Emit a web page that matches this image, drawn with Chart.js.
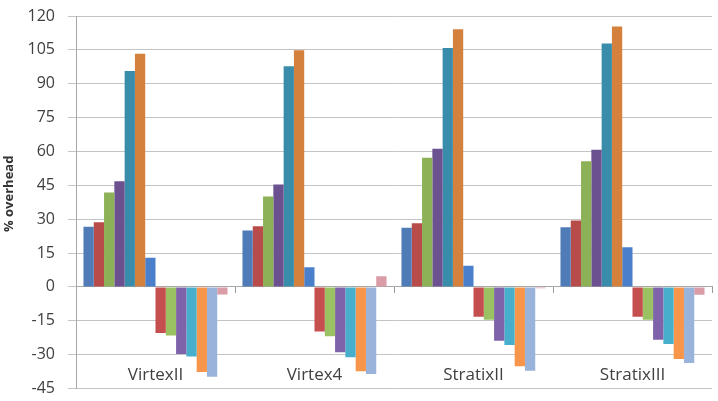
<!DOCTYPE html>
<html><head><meta charset="utf-8">
<script src="https://cdn.jsdelivr.net/npm/chart.js@4"></script>
<style>html,body{margin:0;padding:0;background:#fff}canvas{display:block}</style>
</head><body>
<canvas id="c" width="718" height="401"></canvas>
<script>
const categories = ['VirtexII', 'Virtex4', 'StratixII', 'StratixIII'];
const seriesNames = ['Series 1','Series 2','Series 3','Series 4','Series 5','Series 6','Series 7',
                     'Series 8','Series 9','Series 10','Series 11','Series 12','Series 13','Series 14'];
const s1  = [26.7, 25.0, 26.2, 26.4];
const s2  = [28.6, 26.9, 28.2, 29.4];
const s3  = [41.8, 40.0, 57.2, 55.7];
const s4  = [46.8, 45.4, 61.2, 60.7];
const s5  = [95.6, 97.7, 105.8, 107.8];
const s6  = [103.3, 104.8, 114.1, 115.4];
const s7  = [12.9, 8.7, 9.4, 17.6];
const s8  = [-20.4, -19.8, -13.2, -13.2];
const s9  = [-21.5, -21.9, -14.6, -14.6];
const s10 = [-29.7, -29.0, -23.8, -23.4];
const s11 = [-30.8, -31.2, -25.7, -25.3];
const s12 = [-37.7, -37.4, -35.2, -31.9];
const s13 = [-39.8, -38.6, -37.1, -33.7];
const s14 = [-3.4, 4.7, -0.6, -3.5];
const yMin = -45, yMax = 120, yStep = 15;
const yTitle = '% overhead';

const seriesValues = [s1,s2,s3,s4,s5,s6,s7,s8,s9,s10,s11,s12,s13,s14];
const colors = ['#4F7BB6','#B84C4A','#8CB157','#6B518F','#3A8DAA','#D4813E','#4A7FCB',
                '#C54E4E','#9BC262','#7E63AA','#47AECC','#F7964A','#9AB3DA','#DA9CA6'];

const gridColor = '#c4c4c4';
const fontFamily = '"Open Sans", sans-serif';

new Chart(document.getElementById('c'), {
  type: 'bar',
  data: {
    labels: categories,
    datasets: seriesValues.map((v, i) => ({
      label: seriesNames[i],
      data: v,
      backgroundColor: colors[i],
      borderWidth: 0,
      categoryPercentage: 0.906,
      barPercentage: 1.0
    }))
  },
  options: {
    responsive: false,
    animation: false,
    devicePixelRatio: 1,
    layout: { padding: { left: 0, right: 6, top: 16, bottom: 12.5 } },
    plugins: { legend: { display: false }, tooltip: { enabled: false } },
    scales: {
      x: {
        type: 'category',
        position: 'bottom',
        grid: { display: false },
        border: { display: false },
        ticks: { color: '#404040', font: { family: fontFamily, size: 17 }, mirror: true, padding: 3, maxRotation: 0, autoSkip: false },
        afterFit: (s) => { s.height = 0.01; s.paddingLeft = 0; s.paddingRight = 0; }
      },
      x2: {
        type: 'category',
        axis: 'x',
        position: { y: 0 },
        offset: true,
        grid: { offset: true, drawOnChartArea: false, drawTicks: true, tickLength: 6, color: '#9a9a9a' },
        border: { display: true, color: '#a8a8a8', width: 1 },
        ticks: { display: false },
        afterFit: (s) => { s.height = 0.01; s.paddingLeft = 0; s.paddingRight = 0; }
      },
      y: {
        min: yMin, max: yMax,
        ticks: { stepSize: yStep, color: '#404040', font: { family: fontFamily, size: 16 }, padding: 13 },
        grid: { color: gridColor, lineWidth: 1, tickLength: 8 },
        border: { display: true, color: '#a8a8a8', width: 1 },
        title: {
          display: true,
          text: '     ' + yTitle,
          color: '#333333',
          font: { family: fontFamily, size: 13, weight: 'bold' },
          padding: { top: 1, bottom: 0 }
        },
        afterFit: (s) => { s.width = 76; s.paddingTop = 0; s.paddingBottom = 0; }
      }
    }
  }
});
</script>
</body></html>
